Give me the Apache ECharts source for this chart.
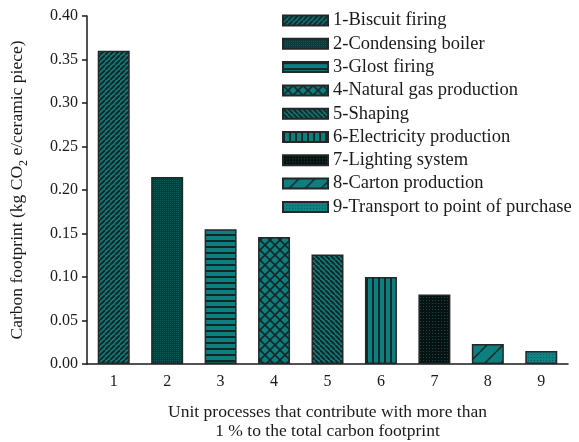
<!DOCTYPE html>
<html>
<head>
<meta charset="utf-8">
<script src="https://cdn.jsdelivr.net/npm/echarts@6/dist/echarts.min.js"></script>
<style>
  html, body { margin: 0; padding: 0; background: #fff; }
  #chart { width: 579px; height: 442px; }
</style>
</head>
<body>
<div id="chart"></div>
<script>
// Unit processes and their carbon footprint (kg CO2 e / ceramic piece)
var categories = ['1', '2', '3', '4', '5', '6', '7', '8', '9'];
var processNames = [
  '1-Biscuit firing',
  '2-Condensing boiler',
  '3-Glost firing',
  '4-Natural gas production',
  '5-Shaping',
  '6-Electricity production',
  '7-Lighting system',
  '8-Carton production',
  '9-Transport to point of purchase'
];
var footprint = [0.36, 0.215, 0.155, 0.146, 0.126, 0.100, 0.080, 0.023, 0.015];
var yTicks = { min: 0, max: 0.4, step: 0.05 };

var TEAL = '#0d7f7f';
var DARK = '#142626';
var FONT = 'Liberation Serif';
var INK = '#1a1a1a';

// ---- hatch fill tiles ----
function tile(w, h, draw) {
  var c = document.createElement('canvas');
  c.width = w; c.height = h;
  var g = c.getContext('2d');
  draw(g, w, h);
  return { image: c, repeat: 'repeat' };
}
function diagonal(size, rising, lw, bg, fg) {
  return tile(size, size, function (g, s) {
    g.fillStyle = bg; g.fillRect(0, 0, s, s);
    g.strokeStyle = fg; g.lineWidth = lw;
    g.beginPath();
    for (var k = -1; k <= 1; k++) {
      if (rising) { g.moveTo(k * s, s); g.lineTo(k * s + s, 0); }
      else { g.moveTo(k * s, 0); g.lineTo(k * s + s, s); }
    }
    g.stroke();
  });
}
function stripes(period, lw, vertical, bg, fg) {
  return tile(vertical ? period : 4, vertical ? 4 : period, function (g, w, h) {
    g.fillStyle = bg; g.fillRect(0, 0, w, h);
    g.fillStyle = fg;
    if (vertical) g.fillRect(0, 0, lw, h); else g.fillRect(0, 0, w, lw);
  });
}
function crosshatch(size, lw, bg, fg) {
  return tile(size, size, function (g, s) {
    g.fillStyle = bg; g.fillRect(0, 0, s, s);
    g.strokeStyle = fg; g.lineWidth = lw;
    g.beginPath();
    g.moveTo(0, 0); g.lineTo(s, s);
    g.moveTo(s, 0); g.lineTo(0, s);
    g.stroke();
  });
}
function dots(period, dot, bg, fg) {
  return tile(period, period, function (g, s) {
    g.fillStyle = bg; g.fillRect(0, 0, s, s);
    g.fillStyle = fg; g.fillRect(0, 0, dot, dot);
  });
}

var fills = [
  diagonal(5, true, 2, TEAL, DARK),          // biscuit firing
  dots(2, 1, '#0a3a3a', '#0f5c5c'),           // condensing boiler
  stripes(6, 2, false, TEAL, DARK),           // glost firing
  crosshatch(10, 1.6, TEAL, DARK),            // natural gas
  diagonal(5, false, 2, TEAL, DARK),          // shaping
  stripes(6, 2, true, TEAL, DARK),            // electricity
  dots(3, 1, '#071212', '#0d4a4a'),           // lighting
  diagonal(16, true, 1.5, TEAL, DARK),        // carton
  dots(3, 1, '#108282', '#0b5a5a')            // transport
];

var series = processNames.map(function (name, i) {
  return {
    name: name,
    type: 'bar',
    stack: 'cf',
    barWidth: 32,
    itemStyle: { color: fills[i], borderColor: '#262626', borderWidth: 1.5 },
    data: footprint.map(function (v, j) { return j === i ? v : '-'; })
  };
});

var chart = echarts.init(document.getElementById('chart'), null, { renderer: 'canvas' });
chart.setOption({
  animation: false,
  backgroundColor: '#fff',
  textStyle: { fontFamily: FONT, color: INK },
  grid: { left: 87, right: 11, top: 16, bottom: 78, containLabel: false, outerBoundsMode: 'none' },
  legend: {
    orient: 'vertical',
    left: 277,
    top: 6,
    itemWidth: 45,
    itemHeight: 10,
    itemGap: 4.3,
    icon: 'rect',
    selectedMode: false,
    textStyle: { fontFamily: FONT, fontSize: 18.5, color: INK, lineHeight: 19 },
    data: processNames
  },
  xAxis: {
    type: 'category',
    data: categories,
    axisLine: { lineStyle: { color: INK, width: 1.5 } },
    axisTick: { alignWithLabel: true, length: 5, lineStyle: { color: INK, width: 1.5 } },
    axisLabel: { fontFamily: FONT, fontSize: 16, color: INK, margin: 10 },
    name: 'Unit processes that contribute with more than\n1 % to the total carbon footprint',
    nameLocation: 'middle',
    nameGap: 39,
    nameTextStyle: { fontFamily: FONT, fontSize: 17.5, color: INK, lineHeight: 19, verticalAlign: 'top' }
  },
  yAxis: {
    type: 'value',
    min: yTicks.min,
    max: yTicks.max,
    interval: yTicks.step,
    splitLine: { show: false },
    axisLine: { show: true, lineStyle: { color: INK, width: 1.5 } },
    axisTick: { show: true, length: 5, lineStyle: { color: INK, width: 1.5 } },
    axisLabel: {
      fontFamily: FONT, fontSize: 16, color: INK, margin: 9,
      formatter: function (v) { return v.toFixed(2); }
    },
    name: 'Carbon footprint (kg CO{sub|2} e/ceramic piece)',
    nameLocation: 'middle',
    nameGap: 57,
    nameTextStyle: {
      fontFamily: FONT, fontSize: 17.5, color: INK,
      rich: {
        sub: { fontFamily: FONT, fontSize: 12, color: INK, verticalAlign: 'bottom', lineHeight: 26 }
      }
    }
  },
  series: series
});
</script>
</body>
</html>
